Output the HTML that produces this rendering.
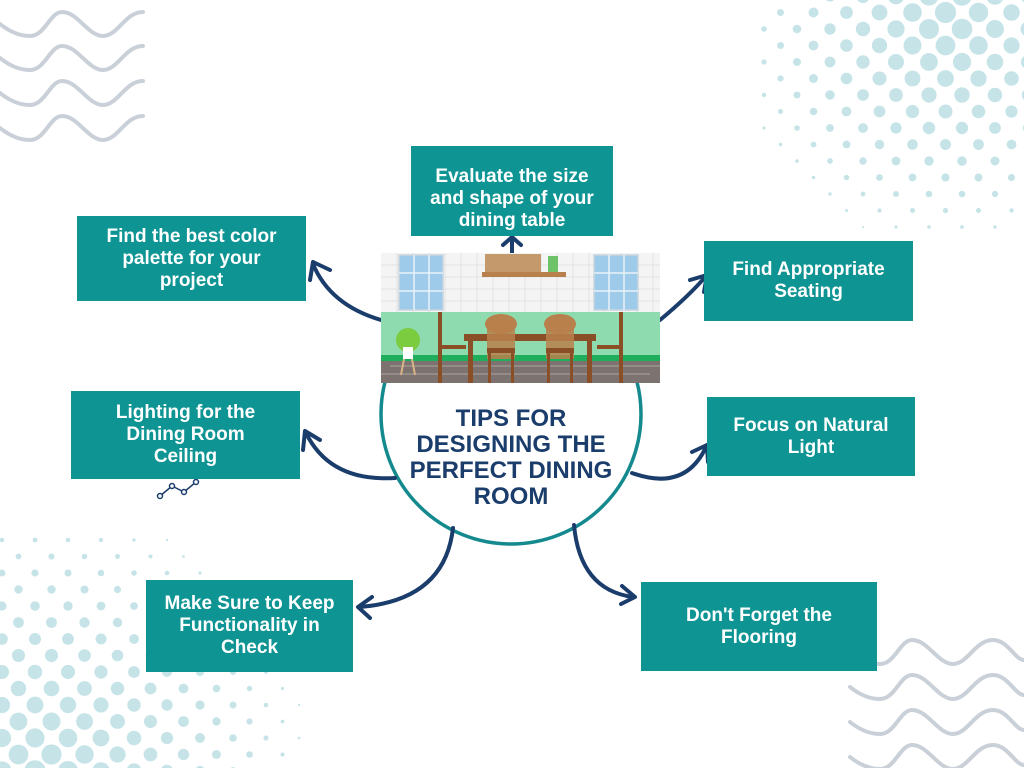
<!DOCTYPE html>
<html><head><meta charset="utf-8"><style>
html,body{margin:0;padding:0;background:#fff;}
#c{position:relative;width:1024px;height:768px;overflow:hidden;background:#fff;font-family:"Liberation Sans",sans-serif;}
svg{position:absolute;left:0;top:0;}
.b{position:absolute;background:#0f9494;color:#fff;font-weight:bold;font-size:19px;line-height:22px;text-align:center;display:flex;align-items:center;justify-content:center;}
.t{position:absolute;left:381px;top:406px;width:260px;text-align:center;color:#1b3d6b;font-weight:bold;font-size:24px;line-height:26px;}
</style></head><body><div id="c">
<svg width="1024" height="768" id="bg">
<g fill="none" stroke="#c9d0d8" stroke-width="4" stroke-linecap="round">
<path d="M0,24 C10,32 20,36 30,36 C45,36 50,12 62,12 C78,12 88,36 103,36 C118,36 125,12 143,12"/>
<path d="M0,58 C10,66 20,70 30,70 C45,70 50,46 62,46 C78,46 88,70 103,70 C118,70 125,46 143,46"/>
<path d="M0,93 C10,101 20,105 30,105 C45,105 50,81 62,81 C78,81 88,105 103,105 C118,105 125,81 143,81"/>
<path d="M0,128 C10,136 20,140 30,140 C45,140 50,116 62,116 C78,116 88,140 103,140 C118,140 125,116 143,116"/>
<path d="M850,652 C860,660 870,664 880,664 C895,664 900,640 912,640 C928,640 938,664 953,664 C968,664 975,640 993,640 C1008,640 1015,660 1024,660"/>
<path d="M850,687 C860,695 870,699 880,699 C895,699 900,675 912,675 C928,675 938,699 953,699 C968,699 975,675 993,675 C1008,675 1015,695 1024,695"/>
<path d="M850,722 C860,730 870,734 880,734 C895,734 900,710 912,710 C928,710 938,734 953,734 C968,734 975,710 993,710 C1008,710 1015,730 1024,730"/>
<path d="M850,757 C860,765 870,769 880,769 C895,769 900,745 912,745 C928,745 938,769 953,769 C968,769 975,745 993,745 C1008,745 1015,765 1024,765"/>
</g>
<g id="dots" fill="#c6e4e8"></g>
</svg>
<svg width="1024" height="768">
<defs><marker id="a" markerWidth="8" markerHeight="8" refX="5" refY="4" orient="auto" markerUnits="userSpaceOnUse" viewBox="0 0 8 8" overflow="visible">
<path d="M-6,-8 L6,4 L-6,16" fill="none" stroke="#1b3d6b" stroke-width="4" stroke-linecap="round" transform="translate(0,0) scale(0.9)"/></marker></defs>
<circle cx="511" cy="414" r="130" fill="#fff" stroke="#14898e" stroke-width="3.5"/>
<g fill="none" stroke="#1b3d6b" stroke-width="4" stroke-linecap="round">
<path d="M381,320 Q330,305 313,264"/>
<path d="M313,262 L310,280 M313,262 L330,270"/>
<path d="M512,253 L512,238 M512,237 L503,245 M512,237 L521,245"/>
<path d="M660,320 Q690,295 706,276"/>
<path d="M707,275 L690,280 M707,275 L704,292"/>
<path d="M395,478 Q330,482 306,433"/>
<path d="M305,431 L303,450 M305,431 L320,440"/>
<path d="M632,473 Q685,492 706,447"/>
<path d="M707,445 L692,452 M707,445 L708,462"/>
<path d="M453,528 Q445,600 360,607"/>
<path d="M358,607 L372,597 M358,607 L370,618"/>
<path d="M574,525 Q580,590 633,597"/>
<path d="M635,597 L622,586 M635,597 L621,604"/>
</g>
<g fill="none" stroke="#1b3d6b" stroke-width="1.5"><path d="M160,496 L172,486 L184,492 L196,482"/></g>
<g fill="#fff" stroke="#1b3d6b" stroke-width="1.5"><circle cx="160" cy="496" r="2.5"/><circle cx="172" cy="486" r="2.5"/><circle cx="184" cy="492" r="2.5"/><circle cx="196" cy="482" r="2.5"/></g>
<!-- room image -->
<g>
<rect x="381" y="253" width="279" height="130" fill="#f4f4f4"/>
<g stroke="#e2e2e2" stroke-width="1">
<path d="M381,265H660M381,277H660M381,289H660M381,301H660M397,253V312M413,253V312M429,253V312M445,253V312M461,253V312M477,253V312M493,253V312M509,253V312M525,253V312M541,253V312M557,253V312M573,253V312M589,253V312M605,253V312M621,253V312M637,253V312M653,253V312"/></g>
<rect x="399" y="255" width="44" height="55" fill="#9fcbea" stroke="#c9d4de" stroke-width="1.5"/>
<path d="M414,255V310M429,255V310M399,273H443M399,291H443" stroke="#e9f2f8" stroke-width="1.5"/>
<rect x="594" y="255" width="44" height="55" fill="#9fcbea" stroke="#c9d4de" stroke-width="1.5"/>
<path d="M609,255V310M624,255V310M594,273H638M594,291H638" stroke="#e9f2f8" stroke-width="1.5"/>
<rect x="485" y="254" width="56" height="19" fill="#c49a6c"/>
<rect x="482" y="272" width="84" height="5" fill="#b8804c"/>
<rect x="548" y="256" width="10" height="16" fill="#6ec36a"/>
<rect x="381" y="312" width="279" height="47" fill="#8fdbb0"/>
<rect x="381" y="355" width="279" height="6" fill="#1fae5c"/>
<rect x="381" y="361" width="279" height="22" fill="#7c7370"/>
<path d="M390,366H660M381,374H650" stroke="#958b87" stroke-width="2"/>
<rect x="464" y="334" width="132" height="7" fill="#8a4f26"/>
<rect x="468" y="340" width="5" height="43" fill="#8a4f26"/><rect x="587" y="340" width="5" height="43" fill="#8a4f26"/>
<rect x="438" y="312" width="4" height="71" fill="#8a4f26"/><rect x="441" y="345" width="25" height="4" fill="#8a4f26"/>
<rect x="619" y="312" width="4" height="71" fill="#8a4f26"/><rect x="597" y="345" width="25" height="4" fill="#8a4f26"/>
<ellipse cx="501" cy="324" rx="16" ry="10" fill="#b8804c"/><rect x="487" y="324" width="28" height="35" fill="#b8804c" opacity=".85"/><rect x="487" y="348" width="28" height="5" fill="#8a4f26"/>
<ellipse cx="560" cy="324" rx="16" ry="10" fill="#b8804c"/><rect x="546" y="324" width="28" height="35" fill="#b8804c" opacity=".85"/><rect x="546" y="348" width="28" height="5" fill="#8a4f26"/>
<rect x="488" y="353" width="3" height="30" fill="#8a4f26"/><rect x="511" y="353" width="3" height="30" fill="#8a4f26"/>
<rect x="547" y="353" width="3" height="30" fill="#8a4f26"/><rect x="570" y="353" width="3" height="30" fill="#8a4f26"/>
<circle cx="408" cy="340" r="12" fill="#7bcc3f"/><rect x="403" y="347" width="10" height="12" fill="#fff"/>
<path d="M404,359L401,375M412,359L415,375" stroke="#d9b48a" stroke-width="2"/>
</g>
</svg>
<div class="b" style="left:411px;top:146px;width:202px;height:90px;align-items:flex-start;padding-top:20px;box-sizing:border-box;">Evaluate the size<br>and shape of your<br>dining table</div>
<div class="b" style="left:77px;top:216px;width:229px;height:85px;">Find the best color<br>palette for your<br>project</div>
<div class="b" style="left:704px;top:241px;width:209px;height:80px;">Find Appropriate<br>Seating</div>
<div class="b" style="left:71px;top:391px;width:229px;height:88px;">Lighting for the<br>Dining Room<br>Ceiling</div>
<div class="b" style="left:707px;top:397px;width:208px;height:79px;">Focus on Natural<br>Light</div>
<div class="b" style="left:146px;top:580px;width:207px;height:92px;">Make Sure to Keep<br>Functionality in<br>Check</div>
<div class="b" style="left:641px;top:582px;width:236px;height:89px;">Don't Forget the<br>Flooring</div>
<div class="t">TIPS FOR<br>DESIGNING THE<br>PERFECT DINING<br>ROOM</div>
</div>
<script>
(function(){var g=document.getElementById('dots'),s='';
function patt(cx,cy,D,R,x0,x1,y0,y1){for(var j=0;;j++){var y=y0+j*16.5;if(y>y1)break;var off=(j%2)*16.5;for(var x=x0+off;x<=x1;x+=33){var d=Math.hypot(x-cx,y-cy);var r=R*(1-d/D);if(r>1)s+='<circle cx="'+x.toFixed(1)+'" cy="'+y.toFixed(1)+'" r="'+r.toFixed(1)+'"/>';}}}
patt(950,20,250,11,764,1040,-4,230);
patt(40,775,300,11,2,300,540,780);
g.innerHTML=s;})();
</script>
</body></html>
